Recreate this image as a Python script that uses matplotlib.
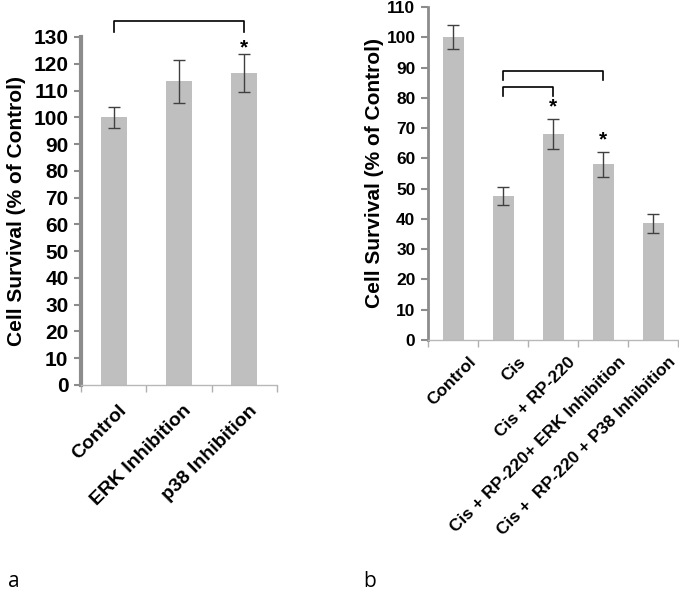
import matplotlib
matplotlib.use("Agg")
import matplotlib.pyplot as plt
from matplotlib.transforms import ScaledTranslation

plt.rcParams['font.family'] = ['Liberation Sans', 'DejaVu Sans']

# Panel a data
cats_a = ["Control", "ERK Inhibition", "p38 Inhibition"]
vals_a = [100, 113.5, 116.5]
errs_a = [4, 8, 7]
yticks_a = list(range(0, 131, 10))

# Panel b data
cats_b = ["Control", "Cis", "Cis + RP-220", "Cis + RP-220+ ERK Inhibition",
          "Cis +  RP-220 + P38 Inhibition"]
vals_b = [100, 47.5, 68, 58, 38.5]
errs_b = [4, 3, 5, 4, 3]
yticks_b = list(range(0, 111, 10))

# significance annotations: (start index, end index, top y, leg bottom y)
brackets_a = [(0, 2, 136, 132)]
stars_a = [(2, 126)]
brackets_b = [(1, 3, 89, 86), (1, 2, 83.5, 80.5)]
stars_b = [(2, 77), (3, 66)]

BAR = "#BFBFBF"
SPINE = "#8C8C8C"
ERR = "#404040"

fig = plt.figure(figsize=(6.79, 5.96), dpi=100)


def draw_panel(rect, cats, vals, errs, yticks, brackets, stars, bar_w,
               spine_lw, tick_fs, xlab_fs, xoff_px, yoff_px):
    ax = fig.add_axes(rect)
    n = len(cats)
    xs = list(range(n))
    ax.bar(xs, vals, width=bar_w, color=BAR, zorder=2)
    ax.errorbar(xs, vals, yerr=errs, fmt='none', ecolor=ERR, elinewidth=1,
                capsize=4, capthick=1, zorder=3)
    ax.set_xlim(-0.5, n - 0.5)
    ax.set_ylim(yticks[0], yticks[-1])
    ax.set_yticks(yticks)
    ax.set_yticklabels([str(t) for t in yticks], fontsize=tick_fs,
                       fontweight='bold')
    # x ticks at category boundaries
    ax.set_xticks([i - 0.5 for i in range(n + 1)])
    ax.set_xticklabels([])
    ax.tick_params(axis='x', length=5, width=1, color="#B0B0B0",
                   direction='out')
    ax.tick_params(axis='y', length=5, width=1.5, color=SPINE,
                   direction='out', pad=4)
    for s in ('top', 'right'):
        ax.spines[s].set_visible(False)
    ax.spines['left'].set_color(SPINE)
    ax.spines['left'].set_linewidth(spine_lw)
    ax.spines['bottom'].set_color("#B8B8B8")
    ax.spines['bottom'].set_linewidth(1)
    ax.set_ylabel("Cell Survival (% of Control)", fontsize=15,
                  fontweight='bold')
    # category labels
    off = ScaledTranslation(xoff_px / 100, -yoff_px / 100, fig.dpi_scale_trans)
    trans = ax.get_xaxis_transform() + off
    for i, c in enumerate(cats):
        ax.text(i, 0, c, transform=trans, rotation=45, rotation_mode='anchor',
                ha='right', va='top', fontsize=xlab_fs, fontweight='bold')
    # brackets
    for a, b, top, bot in brackets:
        ax.plot([a, a, b, b], [bot, top, top, bot], color='black', lw=1.2,
                clip_on=False, zorder=4, solid_joinstyle='round')
    for i, y in stars:
        ax.text(i, y, "*", ha='center', va='center', fontsize=15,
                fontweight='bold', clip_on=False)
    return ax


ax_a = draw_panel([81 / 679, 1 - 385 / 596, 196 / 679, 348 / 596],
                  cats_a, vals_a, errs_a, yticks_a, brackets_a, stars_a,
                  0.4, 3, 15, 14, 4, 17)
ax_b = draw_panel([428 / 679, 1 - 340 / 596, 250 / 679, 333 / 596],
                  cats_b, vals_b, errs_b, yticks_b, brackets_b, stars_b,
                  0.42, 2, 12.5, 12.5, 15, 14)
ax_a.yaxis.set_label_coords(-0.28, 0.5)
ax_b.yaxis.set_label_coords(-0.175, 0.5)

fig.text(8 / 679, 1 - 592 / 596, "a", fontsize=15, ha='left', va='bottom',
         family=['Open Sans', 'DejaVu Sans'])
fig.text(363 / 679, 1 - 592 / 596, "b", fontsize=15, ha='left', va='bottom',
         family=['Open Sans', 'DejaVu Sans'])

fig.savefig("out.png", dpi=100)
